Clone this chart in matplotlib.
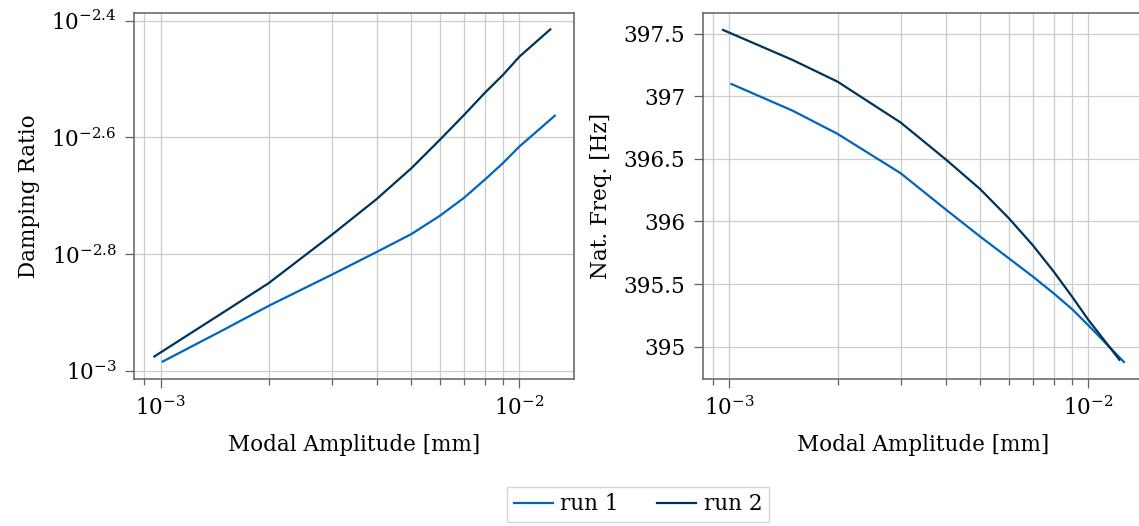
import numpy as np
import matplotlib
matplotlib.use("Agg")
import matplotlib.pyplot as plt
from matplotlib.ticker import FixedLocator, FuncFormatter, NullLocator

plt.rcParams['font.family'] = ['DejaVu Serif']
plt.rcParams['mathtext.fontset'] = 'dejavuserif'
plt.rcParams['font.size'] = 15.5

# modal amplitude [mm]
amp_run1 = [1.013e-3, 1.5e-3, 2e-3, 3e-3, 4e-3, 5e-3, 6e-3, 7e-3, 8e-3, 9e-3, 1e-2, 1.256e-2]
amp_run2 = [9.6e-4, 1.5e-3, 2e-3, 3e-3, 4e-3, 5e-3, 6e-3, 7e-3, 8e-3, 9e-3, 1e-2, 1.22e-2]

# damping ratio
damp_run1 = [1.038e-3, 1.177e-3, 1.293e-3, 1.462e-3, 1.599e-3, 1.716e-3,
             1.844e-3, 1.978e-3, 2.125e-3, 2.270e-3, 2.423e-3, 2.737e-3]
damp_run2 = [1.059e-3, 1.262e-3, 1.414e-3, 1.711e-3, 1.970e-3, 2.225e-3,
             2.488e-3, 2.742e-3, 2.992e-3, 3.214e-3, 3.454e-3, 3.847e-3]

# natural frequency [Hz]
freq_run1 = [397.098, 396.885, 396.70, 396.385, 396.097, 395.878,
             395.706, 395.56, 395.426, 395.30, 395.17, 394.877]
freq_run2 = [397.53, 397.29, 397.117, 396.79, 396.497, 396.257,
             396.026, 395.81, 395.60, 395.40, 395.213, 394.895]

damp_ticks = [-3, -2.8, -2.6, -2.4]
freq_ticks = [395, 395.5, 396, 396.5, 397, 397.5]

c_run1 = '#0065BD'
c_run2 = '#003359'
spine_c = '#606060'
grid_c = '#cccccc'

W, H = 1139, 526
fig = plt.figure(figsize=(W / 100, H / 100), dpi=100)
ax1 = fig.add_axes([134 / W, 1 - 378.7 / H, 440 / W, 365.4 / H])
ax2 = fig.add_axes([702.7 / W, 1 - 378.7 / H, 440.5 / W, 365.4 / H])

for ax in (ax1, ax2):
    ax.set_xscale('log')
    ax.set_xlim(10 ** -3.0745, 10 ** -1.8475)
    for s in ax.spines.values():
        s.set_color(spine_c)
        s.set_linewidth(1.1)
    ax.tick_params(which='major', direction='out', length=6.5, width=0.9,
                   color=spine_c, pad=6)
    ax.tick_params(which='minor', direction='out', length=4.5, width=0.9,
                   color=spine_c)
    ax.xaxis.grid(True, which='both', color=grid_c, linewidth=0.9)
    ax.yaxis.grid(True, which='major', color=grid_c, linewidth=0.9)
    ax.set_axisbelow(True)
    ax.set_xlabel('Modal Amplitude [mm]', labelpad=10)

l1, = ax1.plot(amp_run1, damp_run1, color=c_run1, lw=1.6, label='run 1')
l2, = ax1.plot(amp_run2, damp_run2, color=c_run2, lw=1.6, label='run 2')
ax1.set_yscale('log')
ax1.set_ylim(10 ** -3.0132, 10 ** -2.3873)
ax1.yaxis.set_major_locator(FixedLocator([10 ** e for e in damp_ticks]))
ax1.yaxis.set_minor_locator(NullLocator())
ax1.yaxis.set_major_formatter(
    FuncFormatter(lambda v, p: r'$10^{%g}$' % round(np.log10(v), 1)))
ax1.set_ylabel('Damping Ratio', labelpad=8)

ax2.plot(amp_run1, freq_run1, color=c_run1, lw=1.6)
ax2.plot(amp_run2, freq_run2, color=c_run2, lw=1.6)
ax2.set_ylim(394.744, 397.663)
ax2.yaxis.set_major_locator(FixedLocator(freq_ticks))
ax2.yaxis.set_major_formatter(FuncFormatter(lambda v, p: f'{v:g}'))
ax2.set_ylabel('Nat. Freq. [Hz]', labelpad=8)

fig.legend(handles=[l1, l2], loc='upper center', bbox_to_anchor=(638 / W, 1 - 487 / H),
           ncol=2, frameon=True, fancybox=False, edgecolor='#cccccc',
           handlelength=1.8, handletextpad=0.35, columnspacing=1.8,
           borderpad=0.3, borderaxespad=0)

fig.savefig('out.png', dpi=100)
print("saved")
